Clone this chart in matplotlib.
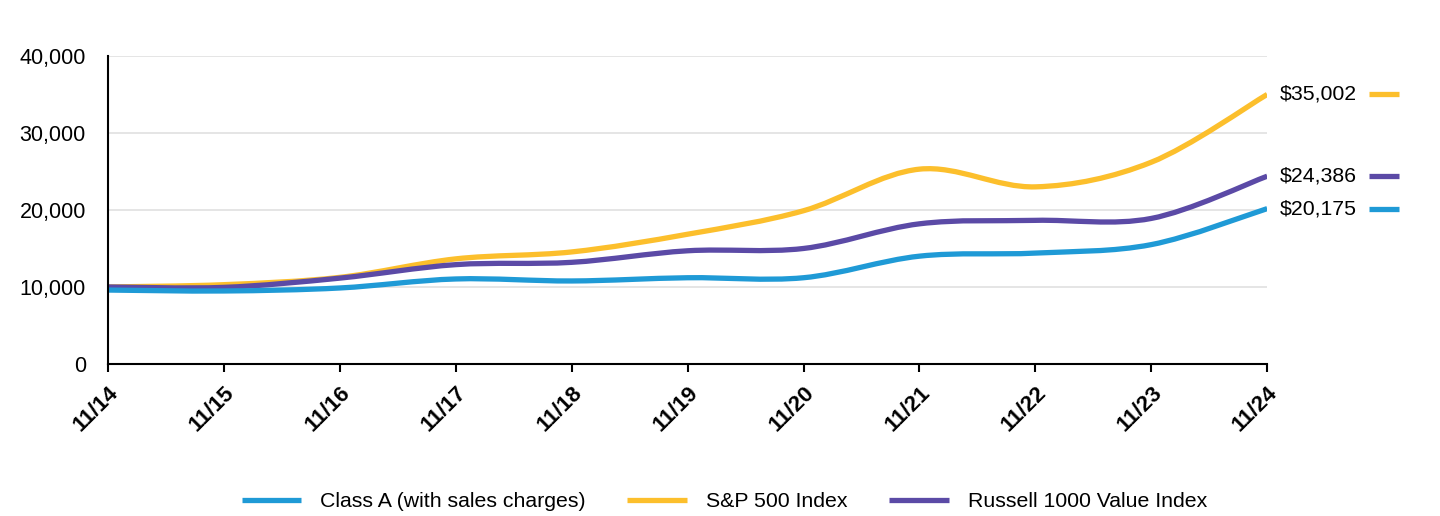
import numpy as np
import matplotlib.pyplot as plt
from matplotlib.path import Path
from matplotlib.patches import PathPatch
from matplotlib.lines import Line2D

plt.rcParams['font.family'] = ['Liberation Sans', 'DejaVu Sans']

# Data
dates = ["11/14", "11/15", "11/16", "11/17", "11/18", "11/19",
         "11/20", "11/21", "11/22", "11/23", "11/24"]
class_a = [9600, 9480, 9870, 11040, 10780, 11200, 11200, 14000, 14400, 15500, 20175]
sp500 = [10000, 10300, 11250, 13650, 14550, 16850, 19900, 25300, 23000, 26200, 35002]
russell = [10000, 9950, 11150, 12900, 13200, 14700, 15000, 18200, 18650, 18900, 24386]

names = ["Class A (with sales charges)", "S&P 500 Index", "Russell 1000 Value Index"]
colors = ["#1f9ad6", "#fcbf2c", "#5b4aa6"]
series = [class_a, sp500, russell]


def smooth_path(xs, ys, t=0.5):
    # Catmull-Rom style bezier through the data points
    xs = np.asarray(xs, float)
    ys = np.asarray(ys, float)
    verts = [(xs[0], ys[0])]
    codes = [Path.MOVETO]
    n = len(xs)
    for i in range(n - 1):
        x0, y0 = (xs[i - 1], ys[i - 1]) if i > 0 else (xs[i], ys[i])
        x1, y1 = xs[i], ys[i]
        x2, y2 = xs[i + 1], ys[i + 1]
        x3, y3 = (xs[i + 2], ys[i + 2]) if i + 2 < n else (x2, y2)
        c1 = (x1 + (x2 - x0) * t / 3, y1 + (y2 - y0) * t / 3)
        c2 = (x2 - (x3 - x1) * t / 3, y2 - (y3 - y1) * t / 3)
        verts += [c1, c2, (x2, y2)]
        codes += [Path.CURVE4] * 3
    return Path(verts, codes)


fig = plt.figure(figsize=(14.4, 5.16), dpi=100)
ax = fig.add_axes([0.075, 0.2946, 0.805, 0.597])

x = np.arange(len(dates))
draw_order = [1, 2, 0]
for i in draw_order:
    p = PathPatch(smooth_path(x, series[i]), facecolor='none', edgecolor=colors[i],
                  lw=3.8, capstyle='butt', joinstyle='round', zorder=3)
    ax.add_patch(p)

ax.set_xlim(0, len(dates) - 1)
ax.set_ylim(0, 40000)
ax.set_yticks([0, 10000, 20000, 30000, 40000])
ax.set_yticklabels(["0", "10,000", "20,000", "30,000", "40,000"], fontsize=15.5)
ax.set_xticks(x)
ax.set_xticklabels(dates, rotation=45, ha='right', rotation_mode='anchor',
                   fontsize=16, fontweight='bold')
ax.tick_params(axis='y', length=0, pad=16)
ax.tick_params(axis='x', length=6, width=1.5, direction='out', pad=7)
ax.grid(axis='y', color='#e0e0e0', lw=1.2)
ax.set_axisbelow(True)
for s in ['top', 'right']:
    ax.spines[s].set_visible(False)
for s in ['left', 'bottom']:
    ax.spines[s].set_linewidth(1.5)
    ax.spines[s].set_zorder(4)

# End-value labels with short colour keys
for i in [1, 2, 0]:
    v = series[i][-1]
    ax.annotate(f"${v:,.0f}", xy=(x[-1], v), xytext=(9, 0), textcoords='offset points',
                va='center', ha='left', fontsize=15.3, annotation_clip=False)
    ax.plot([x[-1] + 0.88, x[-1] + 1.14], [v, v], color=colors[i], lw=3.8,
            solid_capstyle='butt', clip_on=False)

handles = [Line2D([0], [0], color=c, lw=3.8, solid_capstyle='butt') for c in colors]
fig.legend(handles, names, loc='lower center', bbox_to_anchor=(0.503, -0.028), ncol=3,
           frameon=False, fontsize=15.3, handlelength=2.8, handletextpad=0.9,
           columnspacing=1.95)

fig.savefig("out.png", dpi=100)
